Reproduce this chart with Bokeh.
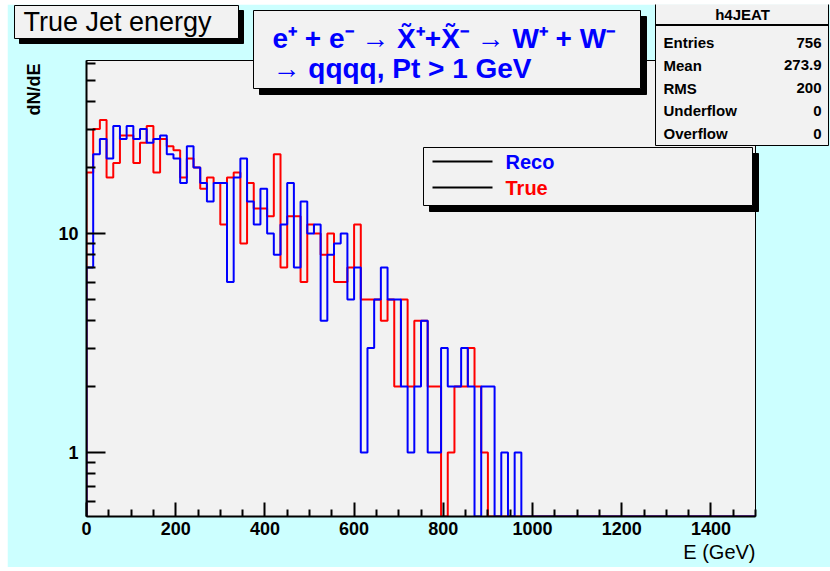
import numpy as np
from bokeh.plotting import figure
from bokeh.models import Range1d, BoxAnnotation, Label, FixedTicker, GridBox
from bokeh.embed import file_html
from bokeh.resources import INLINE

# ---------------- data ----------------
bin_edges = list(range(0, 1501, 15))          # 100 bins of 15 GeV
reco_counts = [7, 23, 27, 22, 31, 27, 31, 27, 30, 26,
               27, 28, 23, 22, 17, 25, 20, 17, 14, 17,
               17, 6, 18, 22, 14, 11, 16, 10, 8, 11,
               17, 7, 14, 10, 11, 4, 8, 9, 10, 5,
               7, 1, 3, 5, 7, 5, 5, 2, 1, 2,
               4, 1, 1, 3, 2, 2, 3, 2, 0, 2,
               2, 0, 1, 0, 1]
true_counts = [19, 30, 33, 18, 21, 28, 28, 21, 26, 31,
               19, 27, 25, 24, 18, 22, 20, 16, 18, 17,
               11, 18, 19, 9, 17, 13, 13, 12, 23, 7,
               12, 12, 6, 11, 10, 8, 10, 6, 6, 7,
               11, 5, 5, 5, 4, 5, 2, 5, 2, 4,
               4, 2, 2, 0, 1, 2, 2, 3, 2, 1,
               0, 0, 0, 0, 0]
x_major_ticks = [0, 200, 400, 600, 800, 1000, 1200, 1400]
y_major_ticks = [1, 10]
y_tick_labels = ["1", "10"]
stat_names = ["Entries", "Mean", "RMS", "Underflow", "Overflow"]
stat_values = ["756", "273.9", "200", "0", "0"]
legend_names = ["Reco", "True"]
legend_colors = ["#0000FF", "#FF0000"]

# ---------------- histogram figure ----------------
OX, OY = 7, 4           # page offset of the figures
W, H = 823, 563
Y0, Y1 = 0.5103, 61.66
FONT = "Liberation Sans"

p = figure(width=W, height=H, output_backend="svg", toolbar_location=None,
           x_range=Range1d(0, 1500), y_range=Range1d(Y0, Y1), y_axis_type="log",
           min_border_left=86 - OX, min_border_right=W - (755 - OX),
           min_border_top=60 - OY, min_border_bottom=H - (516 - OY))
p.frame_align = False
p.background_fill_color = "#F2F2F2"
p.border_fill_color = "#CCFFFF"
p.outline_line_color = "#000000"
p.outline_line_width = 1
p.grid.visible = False

edges = np.array(bin_edges, dtype=float)
nb = len(edges) - 1

def step_xy(counts):
    c = np.zeros(nb)
    c[:len(counts)] = counts
    y = np.where(c > 0, c, Y0)
    xs = np.concatenate([[edges[0]], edges])
    ys = np.concatenate([[Y0], y, [Y0]])
    return xs, ys

xr, yr = step_xy(true_counts)
p.step(xr, yr, mode="after", line_color="#FF0000", line_width=2)
xb, yb = step_xy(reco_counts)
p.step(xb, yb, mode="after", line_color="#0000FF", line_width=2)

minor_x = [v for v in range(0, 1501, 50) if v not in x_major_ticks]
p.xaxis.ticker = FixedTicker(ticks=x_major_ticks, minor_ticks=minor_x)
minor_y = [0.6, 0.7, 0.8, 0.9, 2, 3, 4, 5, 6, 7, 8, 9, 20, 30, 40, 50, 60]
p.yaxis.ticker = FixedTicker(ticks=y_major_ticks, minor_ticks=minor_y)
p.yaxis.major_label_overrides = {v: t for v, t in zip(y_major_ticks, y_tick_labels)}
for ax in (p.xaxis, p.yaxis):
    ax.axis_line_color = "#000000"
    ax.axis_line_width = 2
    ax.major_tick_line_color = "#000000"
    ax.minor_tick_line_color = "#000000"
    ax.major_tick_line_width = 2
    ax.minor_tick_line_width = 2
    ax.major_tick_out = 0
    ax.minor_tick_out = 0
    ax.major_label_text_font = FONT
    ax.major_label_text_font_style = "bold"
    ax.major_label_text_font_size = "18px"
    ax.major_label_text_color = "#000000"
p.xaxis.major_tick_in = 14
p.xaxis.minor_tick_in = 7
p.xaxis.major_label_standoff = 5
p.yaxis.major_tick_in = 19
p.yaxis.minor_tick_in = 9
p.yaxis.major_label_standoff = 8

# ---------------- overlay figure for boxes and texts ----------------
q = figure(width=W, height=H, output_backend="svg", toolbar_location=None,
           x_range=Range1d(0, W), y_range=Range1d(H, 0),
           x_axis_location=None, y_axis_location=None,
           min_border=0, min_border_left=0, min_border_right=0,
           min_border_top=0, min_border_bottom=0)
q.frame_align = False
q.title.visible = False
q.background_fill_alpha = 0
q.border_fill_alpha = 0
q.outline_line_color = None
q.grid.visible = False

def box(x0, y0, x1, y1, fill="#F2F2F2", line="#000000", lw=1):
    q.add_layout(BoxAnnotation(left=x0 - OX, right=x1 - OX, top=y0 - OY, bottom=y1 - OY,
                               left_units="canvas", right_units="canvas",
                               top_units="canvas", bottom_units="canvas",
                               fill_color=fill, fill_alpha=1.0,
                               line_color=line, line_width=lw, line_alpha=1.0 if line else 0.0))

def text(x, y, s, size, color="#000000", style="normal", align="left", angle=0.0):
    q.add_layout(Label(x=x - OX, y=y - OY, x_units="canvas", y_units="canvas", text=s,
                       text_font=FONT, text_font_size=size, text_font_style=style,
                       text_color=color, text_align=align, text_baseline="middle",
                       angle=angle))

def shadow_box(x0, y0, x1, y1, d=6):
    box(x0 + d, y0 + d, x1 + d, y1 + d, fill="#000000")
    box(x0, y0, x1, y1)

# title
shadow_box(14, 5, 238, 38, d=5)
text(23, 21, "True Jet energy", "27px")

# process text
shadow_box(253, 10, 640, 88, d=6)
text(272, 38, "e\u207a + e\u207b \u2192 X\u0303\u207a+X\u0303\u207b \u2192 W\u207a + W\u207b",
     "28px", color="#0000FF", style="bold")
text(272, 68, "\u2192 qqqq, Pt > 1 GeV", "28px", color="#0000FF", style="bold")

# stats box
box(655, 3, 828, 145)
box(655, 24, 828, 25, fill="#000000")
text(742, 14, "h4JEAT", "15px", style="bold", align="center")
for i, (nm, vl) in enumerate(zip(stat_names, stat_values)):
    yy = 42 + i * 22.8
    text(663, yy, nm, "15px", style="bold")
    text(821, yy, vl, "15px", style="bold", align="right")

# legend
shadow_box(423, 147, 752, 205, d=6)
for i, (nm, col) in enumerate(zip(legend_names, legend_colors)):
    yy = 161 + i * 26
    box(432, yy - 1, 492, yy + 1, fill="#000000", line=None)
    text(505, yy, nm, "20px", color=col, style="bold")

# axis titles
text(33, 63, "dN/dE", "18px", style="bold", align="right", angle=np.pi / 2)
text(755, 551, "E (GeV)", "20px", align="right")

layout = GridBox(children=[(p, 0, 0), (q, 0, 0)])
layout.margin = (OY, 0, 4, OX)

open("out.html", "w").write(file_html(layout, INLINE))
